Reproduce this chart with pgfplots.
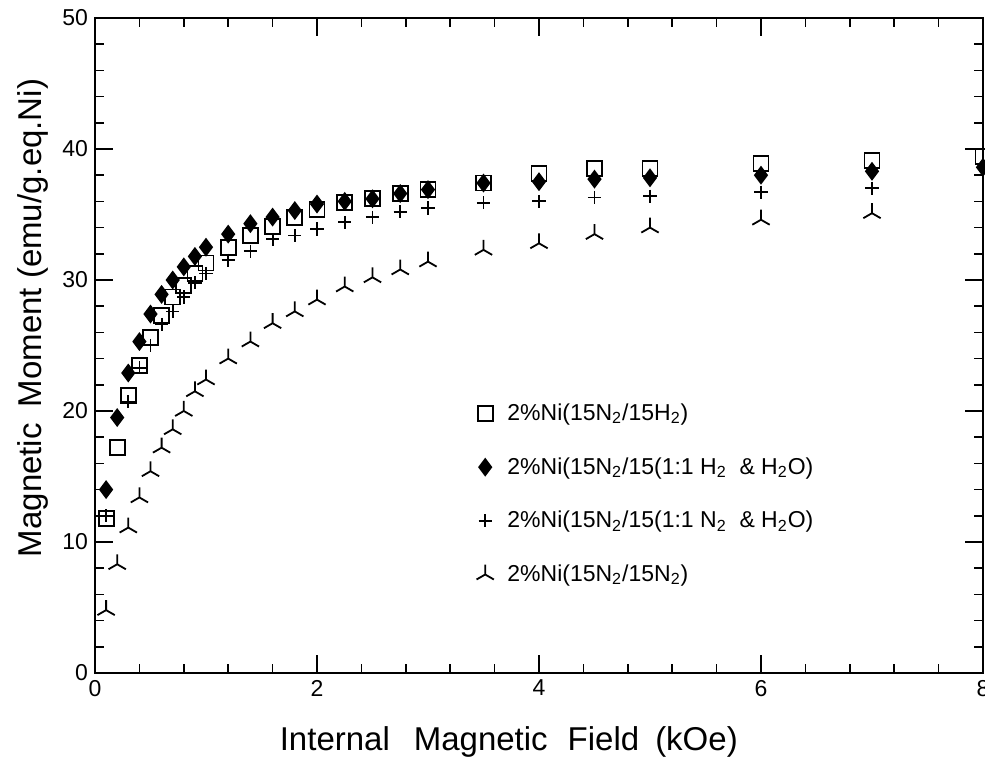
\documentclass[border=0pt]{standalone}
\usepackage{fontspec}
\setmainfont{Liberation Sans}
\usepackage{pgfplots}
\pgfplotsset{compat=1.18}

% 2%Ni(15N2/15H2)
\pgfplotstableread{
x y
0.1 11.8
0.2 17.2
0.3 21.2
0.4 23.5
0.5 25.6
0.6 27.3
0.7 28.7
0.8 29.6
0.9 30.5
1.0 31.3
1.2 32.5
1.4 33.4
1.6 34.1
1.8 34.8
2.0 35.4
2.25 35.9
2.5 36.2
2.75 36.6
3.0 36.9
3.5 37.4
4.0 38.1
4.5 38.5
5.0 38.5
6.0 38.9
7.0 39.1
8.0 39.4
}\sqdata

% 2%Ni(15N2/15(1:1 H2 & H2O)
\pgfplotstableread{
x y
0.1 14.0
0.2 19.5
0.3 22.9
0.4 25.3
0.5 27.4
0.6 28.9
0.7 30.0
0.8 31.0
0.9 31.8
1.0 32.5
1.2 33.5
1.4 34.3
1.6 34.8
1.8 35.3
2.0 35.8
2.25 36.0
2.5 36.2
2.75 36.6
3.0 36.9
3.5 37.4
4.0 37.5
4.5 37.7
5.0 37.8
6.0 38.0
7.0 38.3
8.0 38.6
}\diadata

% 2%Ni(15N2/15(1:1 N2 & H2O)
\pgfplotstableread{
x y
0.1 12.0
0.3 20.7
0.4 23.3
0.5 25.0
0.6 26.6
0.7 27.6
0.8 28.7
0.9 29.8
1.0 30.5
1.2 31.5
1.4 32.2
1.6 33.1
1.8 33.4
2.0 33.9
2.25 34.4
2.5 34.8
2.75 35.2
3.0 35.5
3.5 35.9
4.0 36.0
4.5 36.3
5.0 36.4
6.0 36.7
7.0 37.0
}\plusdata

% 2%Ni(15N2/15N2)
\pgfplotstableread{
x y
0.1 4.8
0.2 8.3
0.3 11.1
0.4 13.4
0.5 15.4
0.6 17.2
0.7 18.6
0.8 20.0
0.9 21.5
1.0 22.4
1.2 24.0
1.4 25.3
1.6 26.7
1.8 27.6
2.0 28.5
2.25 29.5
2.5 30.2
2.75 30.8
3.0 31.4
3.5 32.3
4.0 32.8
4.5 33.5
5.0 34.0
6.0 34.6
7.0 35.1
}\tridata

\begin{document}
\begin{tikzpicture}
\begin{axis}[
  scale only axis,
  width=444pt, height=327.5pt,
  at={(0,0)}, anchor=south west,
  xmin=0, xmax=8, ymin=0, ymax=50,
  xtick={0,2,4,6,8}, ytick={0,10,20,30,40,50},
  minor x tick num=4, minor y tick num=4,
  major tick length=9pt, minor tick length=4.5pt,
  axis line style={line width=0.9pt},
  every tick/.style={black, line width=0.8pt},
  clip=false,
  /pgf/number format/assume math mode=true,
  tick label style={font=\fontsize{11.5}{13}\selectfont},
  xlabel={Internal\hspace{12pt}Magnetic\hspace{10pt}Field\hspace{8pt}(kOe)},
  ylabel={Magnetic\hspace{8pt}Moment (emu/g.eq.Ni)},
  label style={font=\fontsize{16.5}{19}\selectfont},
  xlabel style={at={(axis description cs:0.466,-0.119)}, anchor=base},
  ylabel style={at={(axis description cs:-0.0597,0.542)}, anchor=base},
  legend style={at={(axis description cs:0.413,0.424)}, anchor=north west,
    draw=none, fill=none, row sep=13pt,
    font=\fontsize{11.5}{13}\selectfont},
  legend cell align=left,
  legend image code/.code={
    \path[draw=none, fill=none] (0cm,0cm) -- (0.62cm,0cm);
    \draw[#1] plot coordinates {(0.3cm,0cm)};
  },
  every axis plot/.append style={black, line width=0.9pt},
]
\addplot[only marks, mark=square, mark size=3.75pt] table {\sqdata};
\addplot[only marks, mark=diamond*, mark size=4pt] table {\diadata};
\addplot[only marks, mark=+, mark size=3.3pt] table {\plusdata};
\addplot[only marks, mark=Mercedes star, mark size=5pt] table {\tridata};
\legend{2\%Ni(15N\textsubscript{2}/15H\textsubscript{2}),
  2\%Ni(15N\textsubscript{2}/15(1:1 H\textsubscript{2}\ \ \& H\textsubscript{2}O),
  2\%Ni(15N\textsubscript{2}/15(1:1 N\textsubscript{2}\ \ \& H\textsubscript{2}O),
  2\%Ni(15N\textsubscript{2}/15N\textsubscript{2})}
\end{axis}
\pgfresetboundingbox
\path[use as bounding box] (-47.5pt,-43pt) rectangle (445pt,336.5pt);
\end{tikzpicture}
\end{document}
